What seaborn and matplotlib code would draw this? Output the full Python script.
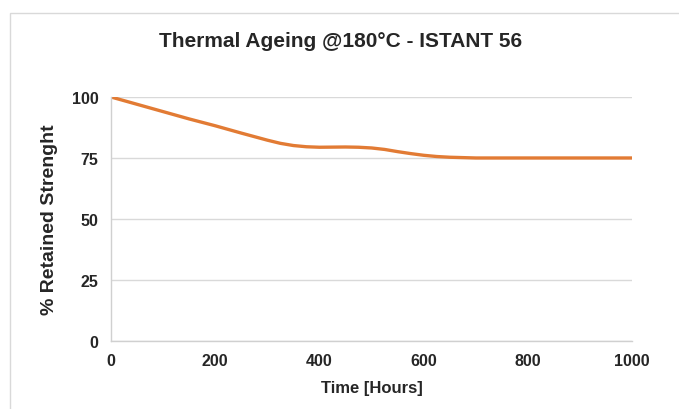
import matplotlib

matplotlib.use("Agg")
import matplotlib.pyplot as plt
import pandas as pd
import seaborn as sns
from matplotlib.patches import Rectangle

# values
hours = [0, 50, 100, 150, 200, 250, 300, 325, 350, 375, 400, 450, 475, 500,
         525, 550, 575, 600, 625, 650, 700, 800, 900, 1000]
retained = [100, 97, 94, 91, 88.2, 85.2, 82.3, 81, 80.1, 79.6, 79.4, 79.5, 79.4, 79.1,
            78.5, 77.6, 76.8, 76.1, 75.6, 75.3, 75, 75, 75, 75]
x_ticks = [0, 200, 400, 600, 800, 1000]
y_ticks = [0, 25, 50, 75, 100]

df = pd.DataFrame({"Hours": hours, "Retained": retained})

sns.set_style("white")
plt.rcParams["font.family"] = ["Liberation Sans", "DejaVu Sans"]

fig = plt.figure(figsize=(6.79, 4.10), dpi=100)
ax = fig.add_axes([0.1635, 0.166, 0.7675, 0.595])

# light frame around the whole chart area
fig.patches.append(
    Rectangle((0.014, -0.01), 1.0, 0.976, transform=fig.transFigure,
              fill=False, edgecolor="#d9d9d9", linewidth=1.0)
)

sns.lineplot(data=df, x="Hours", y="Retained", ax=ax, color="#E27B34", linewidth=2.4)

ax.set_xlim(0, 1000)
ax.set_ylim(0, 100)
ax.set_xticks(x_ticks)
ax.set_yticks(y_ticks)
ax.grid(axis="y", color="#d9d9d9", linewidth=1.0)
ax.set_axisbelow(True)
ax.tick_params(length=0, labelsize=11.5, pad=9)
for lab in ax.get_xticklabels() + ax.get_yticklabels():
    lab.set_fontweight("bold")

for side in ["top", "right"]:
    ax.spines[side].set_visible(False)
for side in ["left", "bottom"]:
    ax.spines[side].set_color("#d0d0d0")
    ax.spines[side].set_linewidth(1.0)

ax.set_xlabel("Time [Hours]", fontsize=12, fontweight="bold", labelpad=8)
ax.set_ylabel("% Retained Strenght", fontsize=14, fontweight="bold", labelpad=10)

fig.text(0.502, 0.898, "Thermal Ageing @180°C - ISTANT 56", ha="center", va="center",
         fontsize=15, fontweight="bold")

fig.savefig("out.png", dpi=100)
